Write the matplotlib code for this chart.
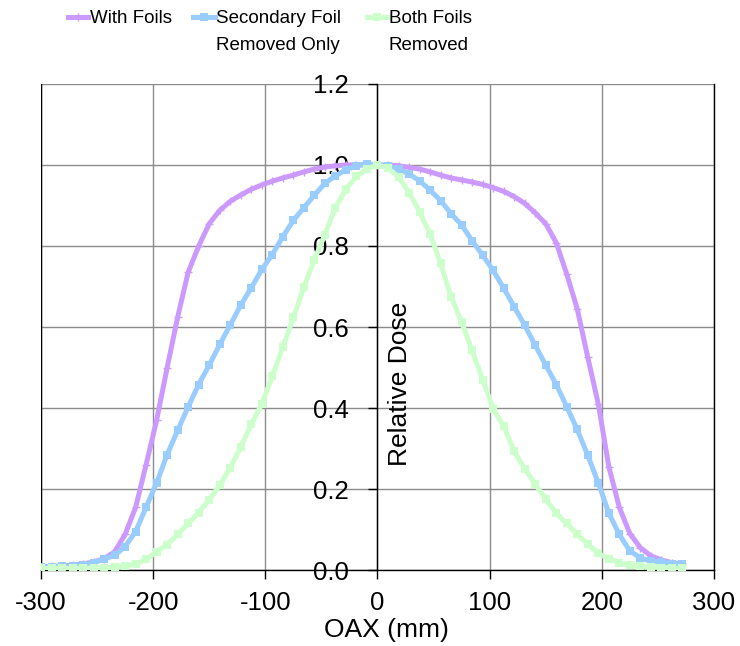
import matplotlib
matplotlib.use("Agg")
import matplotlib.pyplot as plt
from matplotlib.lines import Line2D

# off-axis distance (mm), same grid for all three profiles
oax_mm = [-300.0, -290.6, -281.3, -271.9, -262.5, -253.1, -243.8, -234.4, -225.0, -215.6,
          -206.3, -196.9, -187.5, -178.1, -168.8, -159.4, -150.0, -140.6, -131.3, -121.9,
          -112.5, -103.1, -93.8, -84.4, -75.0, -65.6, -56.3, -46.9, -37.5, -28.1,
          -18.8, -9.4, 0.0, 9.4, 18.8, 28.1, 37.5, 46.9, 56.3, 65.6,
          75.0, 84.4, 93.8, 103.1, 112.5, 121.9, 131.3, 140.6, 150.0, 159.4,
          168.8, 178.1, 187.5, 196.9, 206.3, 215.6, 225.0, 234.4, 243.8, 253.1,
          262.5, 271.9]

with_foils = [0.008, 0.009, 0.010, 0.012, 0.015, 0.020, 0.028, 0.045, 0.088, 0.155,
              0.260, 0.370, 0.500, 0.625, 0.735, 0.800, 0.855, 0.888, 0.910, 0.926,
              0.940, 0.951, 0.960, 0.968, 0.975, 0.983, 0.990, 0.995, 0.998, 1.000,
              1.000, 1.000, 1.000, 1.000, 0.998, 0.994, 0.990, 0.983, 0.975, 0.968,
              0.963, 0.958, 0.952, 0.944, 0.935, 0.922, 0.905, 0.882, 0.855, 0.808,
              0.730, 0.645, 0.525, 0.410, 0.255, 0.155, 0.090, 0.055, 0.035, 0.025,
              0.018, 0.015]

secondary_removed = [0.008, 0.008, 0.009, 0.010, 0.012, 0.018, 0.027, 0.036, 0.058, 0.095,
                     0.155, 0.215, 0.285, 0.345, 0.403, 0.458, 0.506, 0.557, 0.605, 0.654,
                     0.697, 0.742, 0.779, 0.823, 0.863, 0.895, 0.925, 0.955, 0.973, 0.988,
                     0.998, 1.003, 1.000, 0.998, 0.990, 0.978, 0.961, 0.938, 0.912, 0.880,
                     0.852, 0.813, 0.777, 0.740, 0.696, 0.650, 0.604, 0.555, 0.506, 0.458,
                     0.403, 0.347, 0.283, 0.215, 0.140, 0.088, 0.047, 0.030, 0.022, 0.019,
                     0.016, 0.014]

both_removed = [0.004, 0.004, 0.004, 0.004, 0.005, 0.005, 0.006, 0.007, 0.010, 0.015,
                0.026, 0.045, 0.063, 0.088, 0.115, 0.142, 0.173, 0.210, 0.252, 0.303,
                0.360, 0.410, 0.478, 0.550, 0.624, 0.698, 0.766, 0.828, 0.895, 0.940,
                0.972, 0.990, 1.000, 0.992, 0.970, 0.932, 0.885, 0.830, 0.757, 0.675,
                0.612, 0.542, 0.470, 0.398, 0.355, 0.293, 0.250, 0.212, 0.175, 0.140,
                0.115, 0.088, 0.064, 0.041, 0.028, 0.018, 0.012, 0.009, 0.007, 0.006,
                0.005, 0.004]

x_ticks = [-300, -200, -100, 0, 100, 200, 300]
x_tick_labels = ["-300", "-200", "-100", "0", "100", "200", "300"]
y_ticks = [0.0, 0.2, 0.4, 0.6, 0.8, 1.0, 1.2]
y_tick_labels = ["0.0", "0.2", "0.4", "0.6", "0.8", "1.0", "1.2"]

plt.rcParams["font.family"] = ["Liberation Sans", "DejaVu Sans"]

purple = "#CC99FF"
blue = "#99CCFF"
green = "#CCFFCC"

fig = plt.figure(figsize=(7.4, 6.46), dpi=100)
ax = fig.add_axes([0.0554, 0.1176, 0.9094, 0.7524])

ax.plot(oax_mm, with_foils, color=purple, lw=3.6, marker="+", ms=6, mew=1.0, zorder=3)
ax.plot(oax_mm, secondary_removed, color=blue, lw=3.6, marker="s", ms=5.8, mew=0, zorder=3)
ax.plot(oax_mm, both_removed, color=green, lw=3.6, marker="s", ms=5.8, mew=0, zorder=3)

ax.set_xlim(-300, 300)
ax.set_ylim(0, 1.2)
ax.set_xticks(x_ticks)
ax.set_xticklabels(x_tick_labels)
ax.set_yticks(y_ticks)
ax.set_yticklabels(y_tick_labels)
ax.grid(True, color="#8c8c8c", lw=1.0, zorder=0)
ax.set_axisbelow(True)

ax.spines["left"].set_position(("data", 0))
ax.spines["top"].set_visible(False)
for s in ["left", "bottom", "right"]:
    ax.spines[s].set_color("black")
    ax.spines[s].set_linewidth(1.0)
ax.axvline(-300, color="black", lw=1.0, zorder=2.5)

ax.tick_params(axis="both", direction="out", length=6.5, width=1.0, labelsize=18.5)
ax.tick_params(axis="x", pad=8.5)
ax.tick_params(axis="y", pad=14, right=False)

ax.set_xlabel("OAX (mm)", fontsize=19)
ax.xaxis.set_label_coords(0.513, -0.123)
ax.xaxis.label.set_va("center")
ax.set_ylabel("Relative Dose", fontsize=19)
ax.yaxis.set_label_coords(0.533, 0.383)
ax.yaxis.label.set_va("center")

# legend drawn by hand along the top
W, H = 740.0, 646.0
entries = [
    (68, 88, 90, "With Foils", purple, "+"),
    (193, 215, 216, "Secondary Foil\nRemoved Only", blue, "s"),
    (367, 388, 389, "Both Foils\nRemoved", green, "s"),
]
for x0, x1, xt, label, col, mk in entries:
    y = 1 - 17 / H
    fig.add_artist(Line2D([x0 / W, (x0 + x1) / 2 / W, x1 / W], [y, y, y],
                          transform=fig.transFigure, color=col, lw=3.6,
                          marker=mk, markevery=[1], ms=6 if mk == "+" else 5.8,
                          mew=1.0 if mk == "+" else 0))
    fig.text(xt / W, 1 - 10 / H, label, fontsize=13.5, va="top", ha="left",
             linespacing=1.75)

fig.savefig("out.png", dpi=100)
